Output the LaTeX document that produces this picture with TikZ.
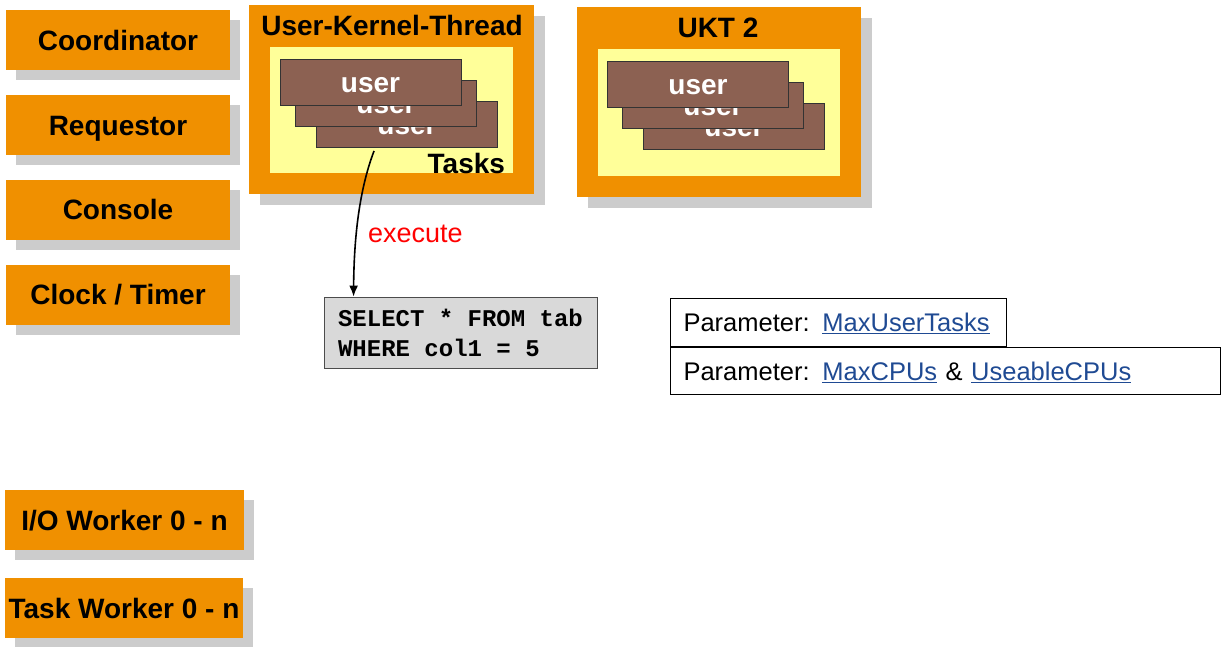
\documentclass[tikz,border=0pt]{standalone}
\usepackage{fontspec}
\setmainfont{Liberation Sans}
\setmonofont{Liberation Mono}
\usetikzlibrary{shadows,arrows.meta,calc}
\definecolor{ukorange}{HTML}{F09000}
\definecolor{ukshadow}{HTML}{CCCCCC}
\definecolor{ukyellow}{HTML}{FFFF99}
\definecolor{ukbrown}{HTML}{8C6152}
\definecolor{uklink}{HTML}{1F4A93}
\definecolor{uksql}{HTML}{D9D9D9}
\newcommand\ukref[1]{\textcolor{uklink}{\underline{#1}}}
\tikzset{
  bigfont/.style={font=\bfseries\fontsize{28}{30}\selectfont},
  comp/.style={bigfont, fill=ukorange, draw=none, inner sep=0pt,
    minimum height=60pt, text height=20pt, text depth=0pt,
    drop shadow={shadow xshift=10pt, shadow yshift=-10pt, fill=ukshadow, opacity=1}},
  ukt/.style={fill=ukorange, draw=none, inner sep=0pt,
    drop shadow={shadow xshift=11pt, shadow yshift=-11pt, fill=ukshadow, opacity=1}},
  ukttitle/.style={bigfont, anchor=base, inner sep=0pt},
  taskarea/.style={fill=ukyellow, draw=none, inner sep=0pt},
  usr/.style={bigfont, fill=ukbrown, draw=black!80, line width=0.9pt, text=white,
    minimum width=181pt, minimum height=46pt, inner sep=0pt,
    text height=20pt, text depth=0pt},
  sqlbox/.style={fill=uksql, draw=black!70, line width=0.9pt,
    font=\ttfamily\bfseries\fontsize{24}{30}\selectfont, align=left,
    inner xsep=12pt, inner ysep=0pt, minimum width=273pt, minimum height=71pt},
  parambox/.style={draw=black, line width=1.1pt, fill=white,
    font=\fontsize{25.5}{28}\selectfont, align=left, inner xsep=13pt, inner ysep=0pt,
    minimum height=48pt, text height=18.5pt, text depth=0pt},
  flow/.style={line width=1.6pt, -{Latex[length=11pt,width=9pt]}},
}
\begin{document}
\begin{tikzpicture}[x=1pt,y=-1pt]
\useasboundingbox (0,0) rectangle (1225,646);

% system threads on the left
\node[comp, minimum width=224pt] (coord) at (118,40) {Coordinator};
\node[comp, minimum width=224pt] (req)   at (118,125) {Requestor};
\node[comp, minimum width=224pt] (cons)  at (118,209.5) {Console};
\node[comp, minimum width=224pt] (clock) at (118,294.5) {Clock / Timer};
\node[comp, minimum width=239pt] (iow)   at (124.5,520) {I/O Worker 0 - n};
\node[comp, minimum width=238pt] (taskw) at (124,608) {Task Worker 0 - n};

% first user kernel thread
\node[ukt, minimum width=285pt, minimum height=189pt] (ukt1) at (391.5,99.5) {};
\node[ukttitle] (ukt1t) at (392,35) {User-Kernel-Thread};
\node[taskarea, minimum width=243pt, minimum height=126pt] (ta1) at (391.5,110) {};
\node[usr] (u13) at (407,124.5) {user};
\node[usr] (u12) at (386,103) {user};
\node[usr] (u11) at (370.5,82) {user};
\node[bigfont, anchor=base east, inner sep=0pt] (tasks) at ($(ta1.south east)+(-8,0)$) {Tasks};

% second user kernel thread
\node[ukt, minimum width=284pt, minimum height=190pt] (ukt2) at (719,102) {};
\node[ukttitle] (ukt2t) at (718,37) {UKT 2};
\node[taskarea, minimum width=242pt, minimum height=127pt] (ta2) at (719,112.5) {};
\node[usr] (u23) at (734,126.5) {user};
\node[usr] (u22) at (713,105.5) {user};
\node[usr] (u21) at (698,84.5) {user};

% statement executed by a task
\node[sqlbox] (sql) at (460.5,332.5) {SELECT * FROM tab\\WHERE col1 = 5};
\coordinate (exstart) at ($(u13.south west)+(58,3)$);
\coordinate (exend) at ($(sql.north west)+(30,0)$);
\draw[flow] (exstart) .. controls (361,185) and (354,230) .. (exend);
\node[anchor=base west, inner sep=0pt, text=red, font=\fontsize{27}{30}\selectfont] (exec) at (368,242) {execute};

% configuration parameters
\node[parambox, anchor=north west, text width=310pt] (p1) at (670,298)
  {Parameter: \ukref{MaxUserTasks}};
\node[parambox, anchor=north west, text width=524pt, minimum height=47pt] (p2) at (p1.south west)
  {Parameter: \ukref{MaxCPUs} \& \ukref{UseableCPUs}};
\end{tikzpicture}
\end{document}
